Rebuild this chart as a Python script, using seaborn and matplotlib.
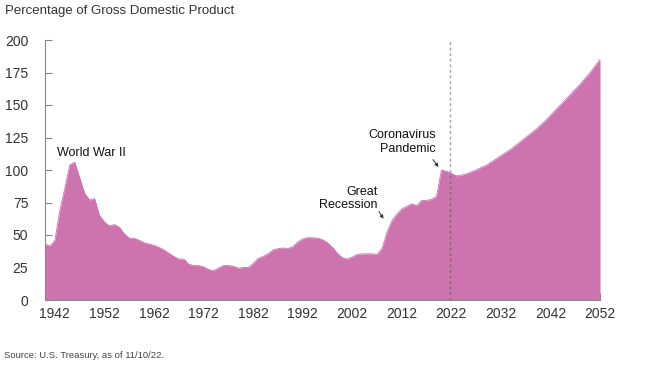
import numpy as np
import matplotlib
matplotlib.use("Agg")
import matplotlib.pyplot as plt
import seaborn as sns

# Federal debt held by the public, % of GDP
hist_years = list(range(1940, 2022))
hist_values = [43, 41.5, 46, 69, 86, 104, 106, 94, 82, 77,
               78, 65, 60, 57, 58, 56, 51, 47.5, 47.5, 46,
               44, 43, 42, 40.5, 38.5, 36, 33.5, 31.5, 31.5, 27.5,
               26.5, 26.5, 25.5, 23.5, 22.5, 24.5, 26.5, 26.5, 26, 24.5,
               25, 25, 28, 32, 33.5, 35.5, 38.5, 39.5, 40, 39.5,
               41, 44.5, 47, 48, 47.8, 47.6, 46.5, 44, 40.5, 36,
               32.5, 31.5, 33, 35, 35.5, 35.5, 35.5, 35, 39.5, 52,
               61, 66, 70, 72, 74, 72.5, 76.5, 76.5, 77.5, 79.5,
               100, 99]
proj_years = list(range(2022, 2053))
proj_values = [97.5, 95.5, 96, 97, 98.5, 100, 102, 103.5, 106, 108.5,
               111, 113.5, 116, 119, 122, 125, 128, 131, 134.5, 138,
               142, 146, 150, 154, 158, 162, 166, 170.5, 175, 180,
               185]

tick_years = list(range(1942, 2053, 10))
y_ticks = [0, 25, 50, 75, 100, 125, 150, 175, 200]

years = np.array(hist_years + proj_years)
values = np.array(hist_values + proj_values)

pink = "#CD73AD"
sns.set_style("white")
plt.rcParams["font.family"] = ["Liberation Sans", "DejaVu Sans"]

fig = plt.figure(figsize=(6.66, 3.69), dpi=100)
ax = fig.add_axes([45 / 666, 1 - 300 / 369, 555 / 666, 260 / 369])

ax.fill_between(years, values, 0, color=pink, linewidth=0)
sns.lineplot(x=years, y=values, color=pink, linewidth=0.6, ax=ax)

ax.axvline(2021.8, color="#555555", alpha=0.55, linestyle=(0, (2, 2)),
           linewidth=1.0)

ax.set_xlim(1940, 2052)
ax.set_ylim(0, 200)
ax.set_xticks(tick_years)
ax.set_yticks(y_ticks)
ax.tick_params(axis="both", direction="in", length=5, width=0.8,
               bottom=True, left=True,
               color="#888888", labelsize=10, labelcolor="#333333")
ax.tick_params(axis="y", pad=12)
ax.tick_params(axis="x", pad=5)
sns.despine(ax=ax)
for s in ["left", "bottom"]:
    ax.spines[s].set_color("#888888")
    ax.spines[s].set_linewidth(0.8)
ax.set_xlabel("")
ax.set_ylabel("")

ax.text(1942.5, 113, "World War II", fontsize=9, ha="left", va="center",
        color="#111111")
ax.text(2018.9, 121.5, "Coronavirus\nPandemic", fontsize=9, ha="right",
        va="center", color="#111111", linespacing=1.3)
ax.annotate("", xy=(2019.4, 102.3), xytext=(2018.3, 108),
            arrowprops=dict(arrowstyle="-|>", color="#333333", lw=0.7,
                            mutation_scale=5, shrinkA=0, shrinkB=0))
ax.text(2007.1, 78, "Great\nRecession", fontsize=9, ha="right", va="center",
        color="#111111", linespacing=1.15)
ax.annotate("", xy=(2008.3, 62.5), xytext=(2007.4, 68),
            arrowprops=dict(arrowstyle="-|>", color="#333333", lw=0.7,
                            mutation_scale=5, shrinkA=0, shrinkB=0))

fig.text(5 / 666, 1 - 11 / 369, "Percentage of Gross Domestic Product",
         fontsize=9.5, color="#333333", ha="left", va="center")
fig.text(4 / 666, 1 - 355 / 369, "Source: U.S. Treasury, as of 11/10/22.",
         fontsize=6.8, color="#444444", ha="left", va="center")

fig.savefig("out.png", dpi=100)
